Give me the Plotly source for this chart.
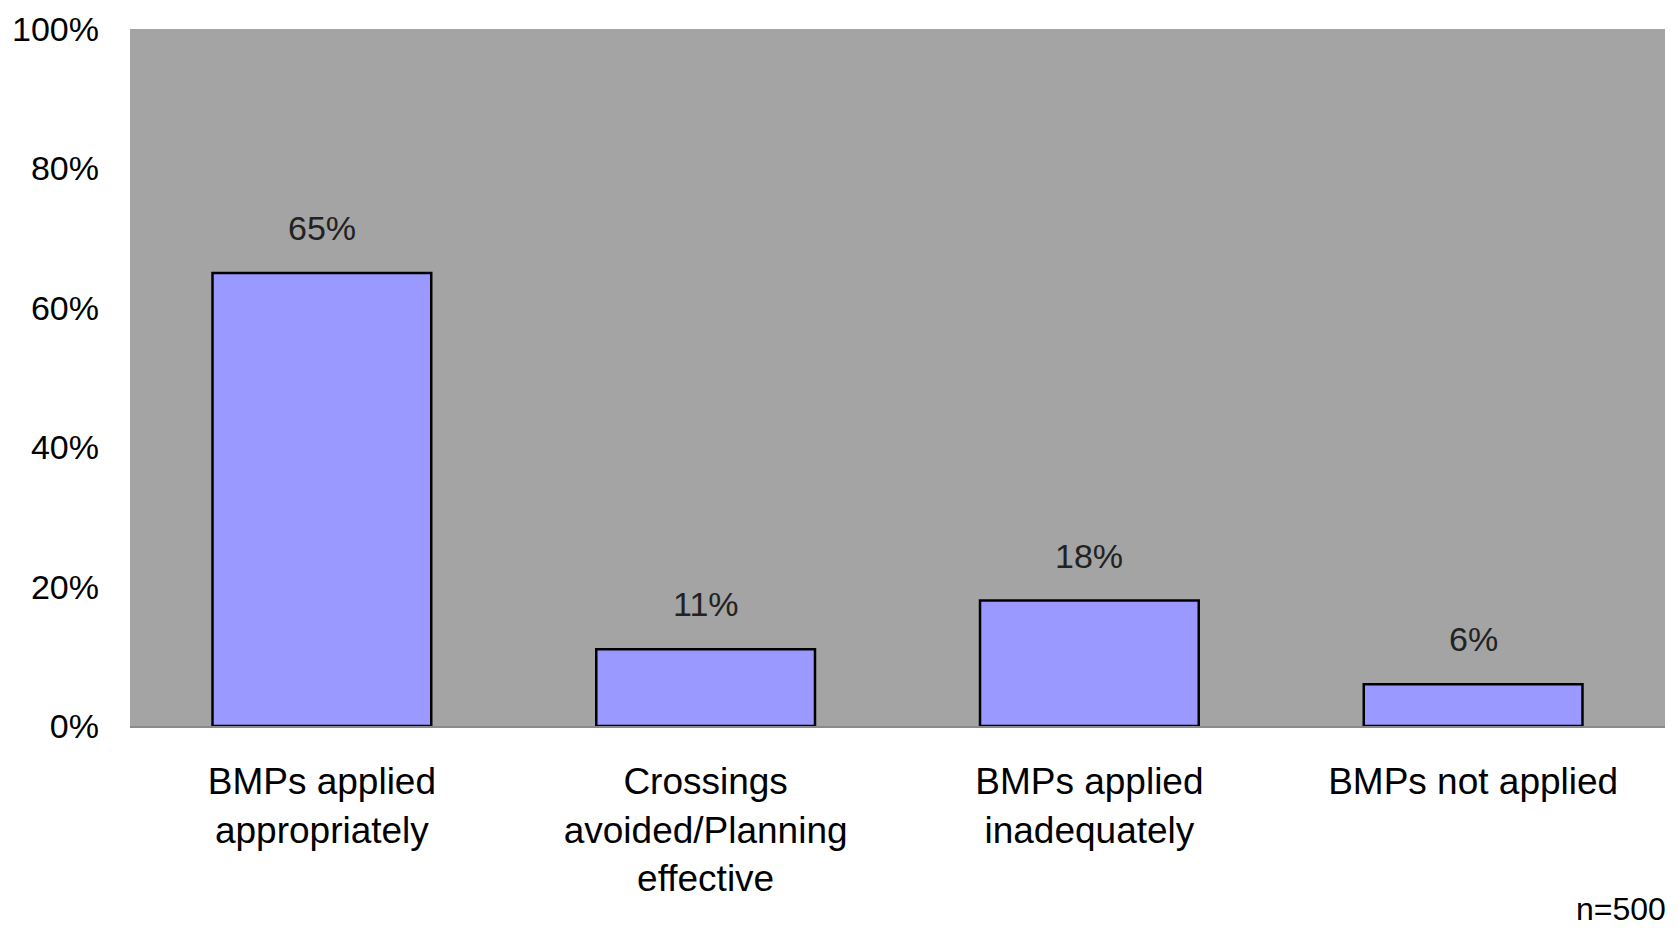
import plotly.graph_objects as go

categories = ["BMPs applied<br>appropriately",
              "Crossings<br>avoided/Planning<br>effective",
              "BMPs applied<br>inadequately",
              "BMPs not applied"]
values = [0.65, 0.11, 0.18, 0.06]
value_labels = ["65%", "11%", "18%", "6%"]
y_ticks = [0, 0.2, 0.4, 0.6, 0.8, 1.0]
y_tick_labels = ["0%", "20%", "40%", "60%", "80%", "100%"]
note_text = "n=500"

FONT = "Liberation Sans, Arial, sans-serif"

fig = go.Figure()
fig.add_trace(go.Bar(
    x=categories, y=values,
    marker=dict(color="#9999ff", line=dict(color="#000000", width=2.5)),
    width=0.57,
))

for c, v, t in zip(categories, values, value_labels):
    fig.add_annotation(x=c, y=v, text=t, showarrow=False, yanchor="bottom",
                       yshift=24, font=dict(family=FONT, size=34, color="#222222"))

fig.add_annotation(xref="paper", yref="paper", x=0.941, y=-0.262, xanchor="left",
                   yanchor="middle", text=note_text, showarrow=False,
                   font=dict(family=FONT, size=32, color="#000000"))

fig.update_layout(
    width=1670, height=921,
    margin=dict(l=122, r=13, t=21, b=203, autoexpand=False),
    paper_bgcolor="white", plot_bgcolor="#a4a4a4",
    showlegend=False,
    bargap=0.43,
    font=dict(family=FONT, color="#000000"),
)
fig.update_xaxes(showgrid=False, showline=True, linecolor="#8a8a8a", linewidth=2,
                 ticks="", tickfont=dict(size=37, family=FONT),
                 ticklabelstandoff=22, automargin=False)
fig.update_yaxes(range=[0, 1], tickvals=y_ticks, ticktext=y_tick_labels,
                 showgrid=False, zeroline=False, showline=False, ticks="",
                 tickfont=dict(size=34, family=FONT), ticklabelstandoff=30,
                 automargin=False)

fig.write_html("out.html")
